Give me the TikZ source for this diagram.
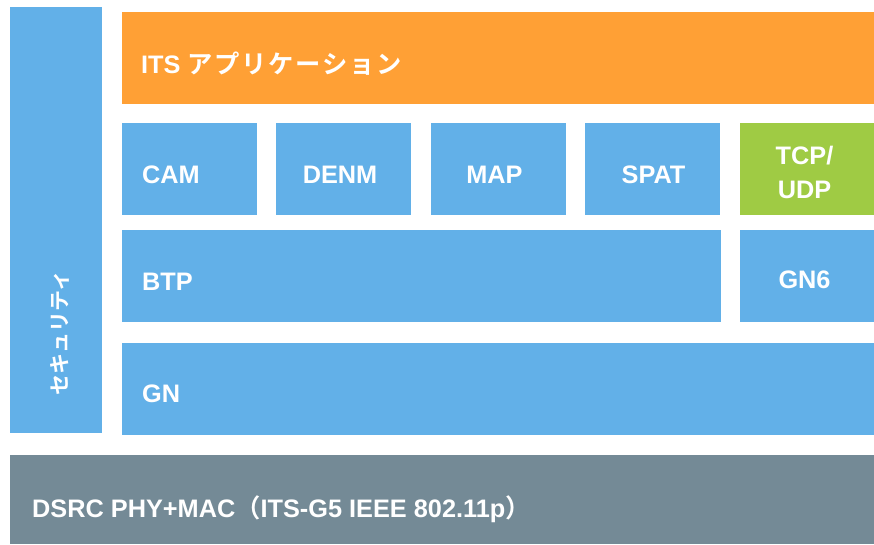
\documentclass[tikz,border=0pt]{standalone}
\usepackage{fontspec}
\setmainfont{Liberation Sans}
\newfontfamily\jp{Noto Sans CJK JP}[BoldFont={Noto Sans CJK JP Bold}]
\newfontfamily\jpwide{Noto Sans CJK JP}[BoldFont={Noto Sans CJK JP Bold}, LetterSpace=7]
\definecolor{cblue}{HTML}{62B0E8}
\definecolor{corange}{HTML}{FFA035}
\definecolor{cgreen}{HTML}{9FCB44}
\definecolor{cgrey}{HTML}{748A96}
\begin{document}
\begin{tikzpicture}[x=1pt,y=-1pt,
  blk/.style={rectangle, inner sep=0pt, outer sep=0pt, anchor=north west},
  lbl/.style={text=white, inner sep=0pt, font=\bfseries\fontsize{25.3}{30}\selectfont}]
\useasboundingbox (0,0) rectangle (874,544);
% blocks
\node[blk, fill=cblue, minimum width=92pt, minimum height=426pt] (sec) at (10,7) {};
\node[blk, fill=corange, minimum width=752pt, minimum height=91.5pt] (its) at (122,12) {};
\node[blk, fill=cblue, minimum width=135pt, minimum height=92pt] (cam) at (122,123) {};
\node[blk, fill=cblue, minimum width=135pt, minimum height=92pt] (denm) at (276,123) {};
\node[blk, fill=cblue, minimum width=135pt, minimum height=92pt] (map) at (431,123) {};
\node[blk, fill=cblue, minimum width=135pt, minimum height=92pt] (spat) at (585,123) {};
\node[blk, fill=cgreen, minimum width=134pt, minimum height=92pt] (tcp) at (740,123) {};
\node[blk, fill=cblue, minimum width=599pt, minimum height=92pt] (btp) at (122,230) {};
\node[blk, fill=cblue, minimum width=134pt, minimum height=92pt] (gn6) at (740,230) {};
\node[blk, fill=cblue, minimum width=752pt, minimum height=92pt] (gn) at (122,343) {};
\node[blk, fill=cgrey, minimum width=864pt, minimum height=89pt] (dsrc) at (10,455) {};
% labels
\node[lbl, anchor=base west] (itsl) at (141,73) {ITS {\jpwide アプリケーション}};
\node[lbl, anchor=base west] (caml) at (142,183) {CAM};
\node[lbl, anchor=base] (denml) at (340,183) {DENM};
\node[lbl, anchor=base] (mapl) at (494.5,183) {MAP};
\node[lbl, anchor=base] (spatl) at (653.5,183) {SPAT};
\node[lbl, anchor=base] (tcpl) at (804.5,164) {TCP/};
\node[lbl, anchor=base] (udpl) at (804.5,198) {UDP};
\node[lbl, anchor=base west] (btpl) at (142,290.5) {BTP};
\node[lbl, anchor=base] (gn6l) at (804.5,288.5) {GN6};
\node[lbl, anchor=base west] (gnl) at (142,402.5) {GN};
\node[lbl, anchor=base west] (dsrcl) at (32,517.5) {DSRC PHY+MAC{\jp （}ITS-G5 IEEE 802.11p{\jp ）}};
\node[lbl, rotate=90, font=\jp\bfseries\fontsize{21}{24}\selectfont] (secl) at (60,333) {セキュリティ};
\end{tikzpicture}
\end{document}
